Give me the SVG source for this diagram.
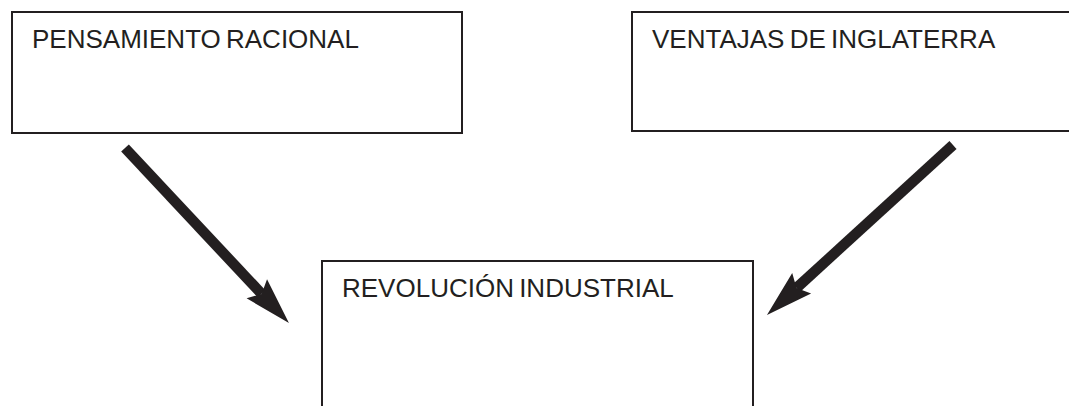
<svg xmlns="http://www.w3.org/2000/svg" width="1069" height="406" viewBox="0 0 1069 406">
<style>
.box{fill:#fff;stroke:#231f20;stroke-width:2}
.lbl{font-family:"Liberation Sans",Arial,sans-serif;font-size:26px;fill:#231f20;word-spacing:-2px}
.arr{stroke:#231f20;stroke-width:10.5;fill:none}
</style>
<defs>
<marker id="head" markerUnits="userSpaceOnUse" orient="auto" refX="0" refY="0" markerWidth="60" markerHeight="30" viewBox="-10 -15 60 30" overflow="visible">
<path d="M40,0 L-7,-14 L0,0 L-7,14 Z" fill="#231f20"/>
</marker>
</defs>
<rect width="1069" height="406" fill="#fff"/>
<g id="n1">
<rect class="box" x="12" y="12" width="450" height="121"/>
<text class="lbl" x="32" y="48">PENSAMIENTO RACIONAL</text>
</g>
<g id="n2">
<rect class="box" x="632" y="12" width="450" height="119"/>
<text class="lbl" x="652" y="48">VENTAJAS DE INGLATERRA</text>
</g>
<g id="n3">
<rect class="box" x="322" y="261" width="431" height="160"/>
<text class="lbl" x="342" y="297">REVOLUCIÓN INDUSTRIAL</text>
</g>
<g id="connectors">
<line class="arr" x1="125" y1="148" x2="261.6" y2="293.9" marker-end="url(#head)"/>
<line class="arr" x1="953" y1="145" x2="796.5" y2="288" marker-end="url(#head)"/>
</g>
</svg>
